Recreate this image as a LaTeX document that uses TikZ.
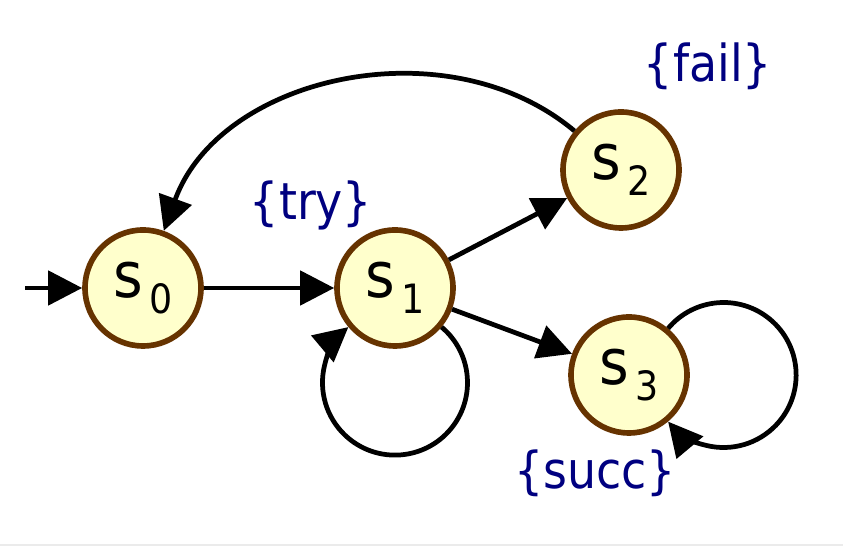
\documentclass[tikz,border=0pt]{standalone}
\usepackage{fontspec}
\setmainfont{DejaVu Sans Condensed}
\usetikzlibrary{arrows.meta,automata,positioning}

\definecolor{statefill}{RGB}{255,255,204}
\definecolor{statedraw}{RGB}{102,51,0}
\definecolor{proplabel}{RGB}{0,0,128}

\newcommand{\stname}[1]{s\hspace{2pt}\raisebox{-4.5pt}{\fontsize{11.5}{12}\selectfont #1}}

\begin{document}
\begin{tikzpicture}[->,>={Triangle[length=0.34cm,width=0.34cm]},line width=1.35pt,
    node distance=2.52cm,
    every state/.style={draw=statedraw,fill=statefill,line width=1.6pt,
      minimum size=1.16cm,inner sep=0pt,font=\fontsize{18}{19}\selectfont},
    prop/.style={text=proplabel,font=\fontsize{14.5}{16}\selectfont}]
  \useasboundingbox (0,0) rectangle (8.43,5.49);
  \draw[-,line width=0.8pt,color=black!8] (0,0.04) -- (8.43,0.04);

  \node[state]  (s0) at (1.43,2.61) {\stname{0}};
  \node[state]  (s1) [right of=s0]  {\stname{1}};
  \node[state]  (s2) at (6.21,3.79) {\stname{2}};
  \node[state]  (s3) at (6.29,1.74) {\stname{3}};
  \coordinate   (in) at (0.25,2.61);

  \node[prop] (try)  at (3.11,3.44) {\{try\}};
  \node[prop] (fail) at (7.08,4.83) {\{fail\}};
  \node[prop] (succ) at (5.95,0.76) {\{succ\}};

  \path (in) edge                 (s0)
        (s0) edge                 (s1)
        (s1) edge                 (s2)
             edge                 (s3)
        (s2) edge [out=140,in=70] (s0)
        ;
  % self loops as round arcs
  \draw (s1.-40) arc[start angle=50,end angle=-230,radius=0.725cm];
  \draw (s3.50)  arc[start angle=140,end angle=-140,radius=0.725cm];
\end{tikzpicture}
\end{document}
